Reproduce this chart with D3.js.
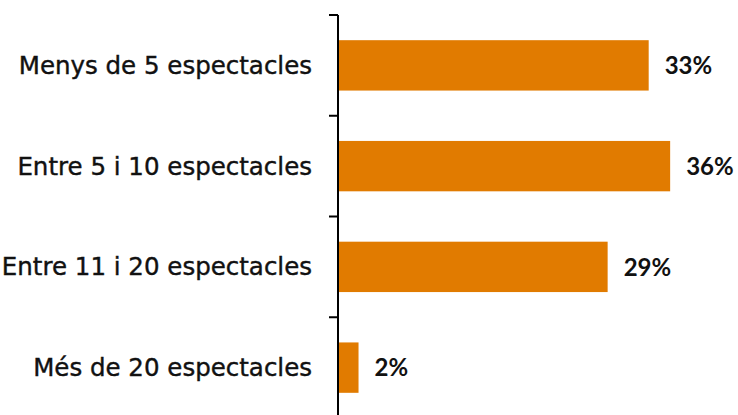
<!DOCTYPE html>
<html>
<head>
<meta charset="utf-8">
<script src="https://cdn.jsdelivr.net/npm/d3@7"></script>
<style>
  html, body { margin: 0; padding: 0; background: #fff; }
  svg { display: block; }
</style>
</head>
<body>
<svg id="chart" width="738" height="415"></svg>
<script>
const categories = [
  "Menys de 5 espectacles",
  "Entre 5 i 10 espectacles",
  "Entre 11 i 20 espectacles",
  "Més de 20 espectacles"
];
const values = [0.333, 0.356, 0.289, 0.022];

const svg = d3.select("#chart");
const axisX = 338;

const y = d3.scaleBand()
  .domain(categories)
  .range([15, 418])
  .paddingInner(0.5)
  .paddingOuter(0.25);

const x = d3.scaleLinear()
  .domain([0, 0.4])
  .range([axisX, axisX + 373.2]);

const fmt = d3.format(".0%");
const data = categories.map((c, i) => ({ cat: c, val: values[i] }));

// bars
svg.selectAll("rect.bar")
  .data(data)
  .enter().append("rect")
  .attr("class", "bar")
  .attr("x", x(0))
  .attr("y", d => y(d.cat))
  .attr("width", d => x(d.val) - x(0))
  .attr("height", y.bandwidth())
  .attr("fill", "#E17B00");

// axis line + ticks at band boundaries
const step = y.step();
const boundaries = categories.map(c => y(c) - step * y.paddingInner() / 2);
boundaries.push(y(categories[categories.length - 1]) + y.bandwidth() + step * y.paddingInner() / 2);

svg.append("line")
  .attr("x1", axisX).attr("x2", axisX)
  .attr("y1", boundaries[0]).attr("y2", 415)
  .attr("stroke", "#000").attr("stroke-width", 2);

svg.selectAll("line.tick")
  .data(boundaries)
  .enter().append("line")
  .attr("class", "tick")
  .attr("x1", axisX - 9).attr("x2", axisX)
  .attr("y1", d => d).attr("y2", d => d)
  .attr("stroke", "#000").attr("stroke-width", 2);

// category labels
svg.selectAll("text.cat")
  .data(data)
  .enter().append("text")
  .attr("class", "cat")
  .attr("x", 312)
  .attr("y", d => y(d.cat) + y.bandwidth() / 2)
  .attr("dy", "0.35em")
  .attr("text-anchor", "end")
  .attr("font-family", "'DejaVu Sans', sans-serif")
  .attr("font-size", 24.5)
  .attr("fill", "#111")
  .attr("stroke", "#111")
  .attr("stroke-width", 0.4)
  .text(d => d.cat);

// value labels
svg.selectAll("text.val")
  .data(data)
  .enter().append("text")
  .attr("class", "val")
  .attr("x", d => x(d.val) + 16)
  .attr("y", d => y(d.cat) + y.bandwidth() / 2)
  .attr("dy", "0.36em")
  .attr("font-family", "Lato, 'DejaVu Sans', sans-serif")
  .attr("font-weight", "bold")
  .attr("font-size", 24)
  .attr("fill", "#111")
  .text(d => fmt(d.val));
</script>
</body>
</html>
